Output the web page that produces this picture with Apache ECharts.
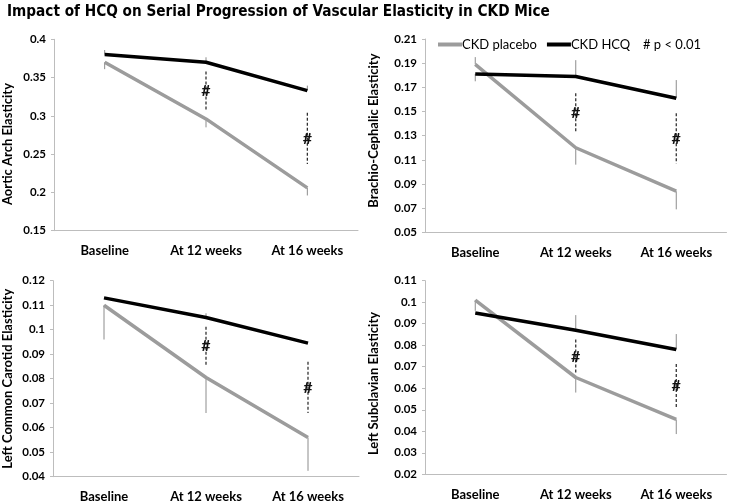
<!DOCTYPE html>
<html><head><meta charset="utf-8">
<script src="https://cdn.jsdelivr.net/npm/echarts@6/dist/echarts.min.js"></script>
<style>html,body{margin:0;padding:0;background:#fff}#c{width:729px;height:504px}</style>
</head><body><div id="c"></div>
<script>
// ---- data ----
const categories = ['Baseline', 'At 12 weeks', 'At 16 weeks'];
const seriesNames = ['CKD placebo', 'CKD HCQ'];
const sigNote = '# p < 0.01';
const title = 'Impact of HCQ on Serial Progression of Vascular Elasticity in CKD Mice';

const panelNames = ['Aortic Arch Elasticity', 'Brachio-Cephalic Elasticity', 'Left Common Carotid Elasticity', 'Left Subclavian Elasticity'];

const aorticPlacebo = [0.370, 0.296, 0.206];
const aorticHCQ = [0.380, 0.370, 0.333];
const brachioPlacebo = [0.189, 0.120, 0.084];
const brachioHCQ = [0.181, 0.179, 0.161];
const carotidPlacebo = [0.110, 0.0805, 0.056];
const carotidHCQ = [0.113, 0.105, 0.0945];
const subclavianPlacebo = [0.101, 0.065, 0.0455];
const subclavianHCQ = [0.095, 0.087, 0.078];

// error bars: [category index, from, to]
const aorticErr = [[0, 0.380, 0.386], [0, 0.370, 0.361], [1, 0.370, 0.3765], [1, 0.296, 0.285], [2, 0.333, 0.3395], [2, 0.206, 0.196]];
const brachioErr = [[0, 0.189, 0.195], [0, 0.181, 0.175], [1, 0.179, 0.1925], [1, 0.120, 0.106], [2, 0.161, 0.176], [2, 0.084, 0.069]];
const carotidErr = [[0, 0.110, 0.096], [1, 0.105, 0.1067], [1, 0.0805, 0.066], [2, 0.056, 0.0424]];
const subclavianErr = [[0, 0.101, 0.096], [1, 0.087, 0.094], [1, 0.065, 0.058], [2, 0.078, 0.0852], [2, 0.0455, 0.0387]];

// significance markers: [category index, top, bottom]
const aorticSig = [[1, 0.358, 0.308], [2, 0.304, 0.237]];
const brachioSig = [[1, 0.165, 0.133], [2, 0.1485, 0.107]];
const carotidSig = [[1, 0.1012, 0.0856], [2, 0.0869, 0.066]];
const subclavianSig = [[1, 0.0827, 0.0669], [2, 0.0713, 0.0507]];

// axis ranges
const yMin = [0.15, 0.05, 0.04, 0.02];
const yMax = [0.4, 0.21, 0.12, 0.11];
const yStep = [0.05, 0.02, 0.01, 0.01];

const placebo = [aorticPlacebo, brachioPlacebo, carotidPlacebo, subclavianPlacebo];
const hcq = [aorticHCQ, brachioHCQ, carotidHCQ, subclavianHCQ];
const errs = [aorticErr, brachioErr, carotidErr, subclavianErr];
const sigs = [aorticSig, brachioSig, carotidSig, subclavianSig];

// ---- layout ----
const FONT = 'Lato, "Open Sans", sans-serif';
const grids = [
  {left: 50, top: 39.3, width: 308, height: 191.4},
  {left: 425, top: 39, width: 301.5, height: 193.3},
  {left: 51, top: 280.7, width: 308, height: 196},
  {left: 425, top: 280.7, width: 301.5, height: 193.6}
];
const nameGaps = [40, 45, 39, 45];
const namePads = [[0, 18, 0, 0], [0, 0, 0, 10], [0, 0, 0, 0], [0, 12, 0, 0]];
const GRAY = '#9c9c9c';

const xAxis = [], yAxis = [], series = [];
for (let i = 0; i < 4; i++) {
  xAxis.push({
    type: 'category', gridIndex: i, data: categories, boundaryGap: true,
    axisLine: {lineStyle: {color: '#bdbdbd', width: 1}},
    axisTick: {show: false},
    axisLabel: {color: '#000', fontFamily: FONT, fontWeight: 'bold', fontSize: 13, margin: 14, interval: 0}
  });
  yAxis.push({
    type: 'value', gridIndex: i, min: yMin[i], max: yMax[i], interval: yStep[i],
    name: panelNames[i], nameLocation: 'middle', nameGap: nameGaps[i],
    nameTextStyle: {color: '#000', fontFamily: FONT, fontWeight: 'bold', fontSize: 13, padding: namePads[i]},
    axisLine: {show: true, lineStyle: {color: '#bdbdbd', width: 1}},
    axisTick: {show: true, length: 3, lineStyle: {color: '#bdbdbd'}},
    splitLine: {show: false},
    axisLabel: {color: '#000', fontFamily: FONT, fontWeight: 'bold', fontSize: 11.5, margin: 8}
  });
  series.push({
    type: 'custom', xAxisIndex: i, yAxisIndex: i, silent: true, z: 1,
    data: errs[i],
    renderItem: function (params, api) {
      const a = api.coord([api.value(0), api.value(1)]);
      const b = api.coord([api.value(0), api.value(2)]);
      return {type: 'line', shape: {x1: a[0], y1: a[1], x2: b[0], y2: b[1]}, style: {stroke: '#8c8c8c', lineWidth: 1}};
    }
  });
  series.push({
    type: 'custom', xAxisIndex: i, yAxisIndex: i, silent: true, z: 5,
    data: sigs[i],
    renderItem: function (params, api) {
      const a = api.coord([api.value(0), api.value(1)]);
      const b = api.coord([api.value(0), api.value(2)]);
      return {type: 'group', children: [
        {type: 'line', shape: {x1: a[0], y1: a[1], x2: b[0], y2: b[1]}, style: {stroke: '#222', lineWidth: 1.2, lineDash: [3, 2]}},
        {type: 'text', style: {text: '#', x: a[0], y: (a[1] + b[1]) / 2, align: 'center', verticalAlign: 'middle', fill: '#111', font: 'bold 16px ' + FONT}}
      ]};
    }
  });
  series.push({
    name: seriesNames[0], type: 'line', xAxisIndex: i, yAxisIndex: i, data: placebo[i],
    symbol: 'none', lineStyle: {color: GRAY, width: 3.5}, itemStyle: {color: GRAY}, z: 3
  });
  series.push({
    name: seriesNames[1], type: 'line', xAxisIndex: i, yAxisIndex: i, data: hcq[i],
    symbol: 'none', lineStyle: {color: '#000', width: 3.5}, itemStyle: {color: '#000'}, z: 4
  });
}

const chart = echarts.init(document.getElementById('c'), null, {renderer: 'canvas'});
chart.setOption({
  backgroundColor: '#fff',
  animation: false,
  title: {text: title, left: 2, top: 0, textStyle: {fontFamily: '"Liberation Sans Narrow", "DejaVu Sans Condensed", sans-serif', fontWeight: 'bold', fontSize: 15.2, color: '#000'}},
  legend: {
    data: [{name: seriesNames[0], icon: 'rect'}, {name: seriesNames[1], icon: 'rect'}],
    left: 438, top: 38, padding: 0, itemWidth: 24, itemHeight: 4, itemGap: 10,
    textStyle: {fontFamily: FONT, fontSize: 13, color: '#000', padding: [0, 0, 0, -5]}
  },
  graphic: [{type: 'text', left: 643, top: 38, style: {text: sigNote, font: '13px ' + FONT, fill: '#000'}}],
  grid: grids,
  xAxis: xAxis,
  yAxis: yAxis,
  series: series
});
</script></body></html>
